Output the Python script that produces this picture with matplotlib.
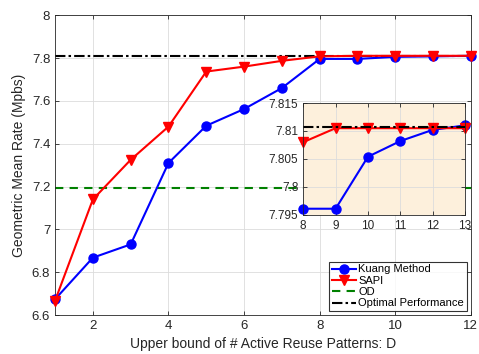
import matplotlib.pyplot as plt
import numpy as np

plt.rcParams['font.family'] = ['Liberation Sans', 'DejaVu Sans']

# data
D = [1, 2, 3, 4, 5, 6, 7, 8, 9, 10, 11, 12]
kuang = [6.674, 6.868, 6.93, 7.31, 7.484, 7.562, 7.66, 7.796, 7.796, 7.8055, 7.808, 7.8105]
sapi = [6.667, 7.14, 7.325, 7.48, 7.737, 7.76, 7.787, 7.808, 7.8105, 7.8105, 7.8105, 7.8105]
od_value = 7.194
optimal_value = 7.8108

D_zoom = [8, 9, 10, 11, 12, 13]
kuang_zoom = [7.7961, 7.7961, 7.8054, 7.8082, 7.8102, 7.811]
sapi_zoom = [7.808, 7.8105, 7.8105, 7.8105, 7.8105, 7.8105]

y_ticks = [6.6, 6.8, 7.0, 7.2, 7.4, 7.6, 7.8, 8.0]
y_zoom_ticks = [7.795, 7.8, 7.805, 7.81, 7.815]

edge = '#262626'
dashdot = (0, (5, 1.5, 1.2, 1.5))


def style_axes(ax):
    ax.tick_params(direction='in', top=True, right=True, colors=edge,
                   labelcolor='#262626', width=0.6, length=3)
    for s in ax.spines.values():
        s.set_color(edge)
        s.set_linewidth(0.6)
    ax.grid(True, color='#dcdcdc', linewidth=0.6)
    ax.set_axisbelow(True)


def main():
    fig = plt.figure(figsize=(4.79, 3.54), dpi=100)
    ax = fig.add_axes([0.115, 0.110, 0.868, 0.847])
    style_axes(ax)

    ax.plot(D, kuang, '-o', color='blue', lw=1.5, ms=6.5, label='Kuang Method',
            clip_on=False, zorder=3)
    ax.plot(D, sapi, '-v', color='red', lw=1.5, ms=7, label='SAPI',
            clip_on=False, zorder=3)
    ax.axhline(od_value, color='#008000', lw=1.5, ls=(0, (4, 3)), label='OD')
    ax.axhline(optimal_value, color='black', lw=1.5, ls=dashdot,
               label='Optimal Performance')

    ax.set_xlim(1, 12)
    ax.set_ylim(6.6, 8)
    ax.set_xticks([2, 4, 6, 8, 10, 12])
    ax.set_yticks(y_ticks)
    ax.set_yticklabels(['%g' % v for v in y_ticks])
    ax.tick_params(labelsize=9.5)
    ax.set_xlabel('Upper bound of # Active Reuse Patterns: D', fontsize=10, color='#262626')
    ax.set_ylabel('Geometric Mean Rate (Mpbs)', fontsize=10, color='#262626')

    leg = ax.legend(loc='lower right', fontsize=8, frameon=True, fancybox=False,
                    borderaxespad=0.35, handlelength=2.2, labelspacing=0.12,
                    borderpad=0.25, handletextpad=0.2)
    leg.get_frame().set_edgecolor('black')
    leg.get_frame().set_linewidth(0.8)
    leg.set_zorder(5)

    # inset
    axi = fig.add_axes([0.633, 0.393, 0.338, 0.316])
    style_axes(axi)
    axi.set_facecolor('#fdf0dc')
    axi.plot(D_zoom, kuang_zoom, '-o', color='blue', lw=1.5, ms=6.5, clip_on=False)
    axi.plot(D_zoom, sapi_zoom, '-v', color='red', lw=1.5, ms=7, clip_on=False)
    axi.axhline(optimal_value, color='black', lw=1.5, ls=dashdot)
    axi.set_xlim(8, 13)
    axi.set_ylim(7.795, 7.815)
    axi.set_xticks(D_zoom)
    axi.set_yticks(y_zoom_ticks)
    axi.set_yticklabels(['%g' % v for v in y_zoom_ticks])
    axi.tick_params(labelsize=8.5)

    fig.savefig('out.png', dpi=100)


if __name__ == '__main__':
    main()
